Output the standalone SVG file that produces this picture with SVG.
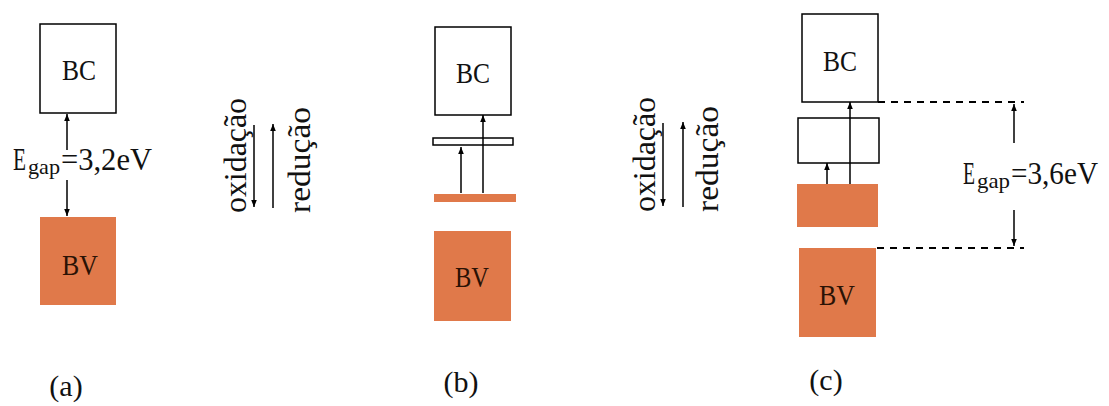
<svg xmlns="http://www.w3.org/2000/svg" width="1109" height="406" viewBox="0 0 1109 406">
<style>
  .box { fill: #ffffff; stroke: #000000; stroke-width: 1.5; }
  .orange { fill: #E0794A; stroke: none; }
  .lbl { font-family: "Liberation Serif", "Times New Roman", serif; font-size: 31px; fill: #111111; }
  .band { font-family: "Liberation Serif", "Times New Roman", serif; font-size: 30px; fill: #111111; text-anchor: middle; }
  .bandv { font-family: "Liberation Serif", "Times New Roman", serif; font-size: 30px; fill: #2a1205; text-anchor: middle; }
  .rot { font-family: "Liberation Serif", "Times New Roman", serif; font-size: 32px; fill: #111111; }
  .sub { font-size: 22px; }
  .arr { stroke: #000000; stroke-width: 1.5; fill: none; marker-end: url(#ah); }
  .dash { stroke: #000000; stroke-width: 1.8; stroke-dasharray: 7 6; fill: none; }
</style>
<defs>
  <marker id="ah" viewBox="0 0 10 10" refX="10" refY="5" markerWidth="7" markerHeight="7" markerUnits="userSpaceOnUse" orient="auto">
    <path d="M0,1 L10,5 L0,9 z" fill="#000000"/>
  </marker>
</defs>
<rect width="1109" height="406" fill="#ffffff"/>

<!-- Panel (a) -->
<g id="a-bc">
  <rect class="box" x="40" y="24" width="76" height="89"/>
  <text class="band" x="79" y="80" textLength="34" lengthAdjust="spacingAndGlyphs">BC</text>
</g>
<g id="a-bv">
  <rect class="orange" x="40" y="217" width="76" height="88"/>
  <text class="bandv" x="80" y="275" textLength="36" lengthAdjust="spacingAndGlyphs">BV</text>
</g>
<g id="a-egap">
  <text class="lbl"><tspan x="13" y="170" textLength="13" lengthAdjust="spacingAndGlyphs">E</tspan><tspan class="sub" x="28" y="174" textLength="32" lengthAdjust="spacingAndGlyphs">gap</tspan><tspan x="61" y="170" textLength="91" lengthAdjust="spacingAndGlyphs">=3,2eV</tspan></text>
</g>
<g id="a-redox">
  <text class="rot" transform="translate(246,213) rotate(-90)" textLength="115" lengthAdjust="spacingAndGlyphs">oxidação</text>
  <text class="rot" transform="translate(310,213) rotate(-90)" textLength="106" lengthAdjust="spacingAndGlyphs">redução</text>
</g>
<g id="a-label">
  <text class="band" x="66" y="396">(a)</text>
</g>

<!-- Panel (b) -->
<g id="b-bc">
  <rect class="box" x="435" y="27" width="76" height="88"/>
  <text class="band" x="473" y="83" textLength="34" lengthAdjust="spacingAndGlyphs">BC</text>
</g>
<g id="b-level">
  <rect class="box" x="433" y="138" width="80" height="7"/>
</g>
<g id="b-bar">
  <rect class="orange" x="434" y="194" width="82" height="8"/>
</g>
<g id="b-bv">
  <rect class="orange" x="434" y="231" width="77" height="90"/>
  <text class="bandv" x="472" y="287" textLength="34" lengthAdjust="spacingAndGlyphs">BV</text>
</g>
<g id="b-redox">
  <text class="rot" transform="translate(655,212) rotate(-90)" textLength="115" lengthAdjust="spacingAndGlyphs">oxidação</text>
  <text class="rot" transform="translate(718,212) rotate(-90)" textLength="106" lengthAdjust="spacingAndGlyphs">redução</text>
</g>
<g id="b-label">
  <text class="band" x="461" y="392">(b)</text>
</g>

<!-- Panel (c) -->
<g id="c-bc">
  <rect class="box" x="802" y="14" width="76" height="88"/>
  <text class="band" x="840" y="71" textLength="34" lengthAdjust="spacingAndGlyphs">BC</text>
</g>
<g id="c-level">
  <rect class="box" x="798" y="118" width="81" height="45"/>
</g>
<g id="c-orange">
  <rect class="orange" x="797" y="184" width="81" height="43"/>
</g>
<g id="c-bv">
  <rect class="orange" x="799" y="248" width="77" height="89"/>
  <text class="bandv" x="837" y="305" textLength="36" lengthAdjust="spacingAndGlyphs">BV</text>
</g>
<g id="c-egap">
  <text class="lbl"><tspan x="963" y="184" textLength="12" lengthAdjust="spacingAndGlyphs">E</tspan><tspan class="sub" x="977" y="188" textLength="33" lengthAdjust="spacingAndGlyphs">gap</tspan><tspan x="1011" y="184" textLength="87" lengthAdjust="spacingAndGlyphs">=3,6eV</tspan></text>
</g>
<g id="c-label">
  <text class="band" x="826" y="390">(c)</text>
</g>

<!-- Connectors -->
<g id="connectors">
  <line class="arr" x1="67" y1="150" x2="67" y2="114"/>
  <line class="arr" x1="67" y1="180" x2="67" y2="216"/>
  <line class="arr" x1="254" y1="125" x2="254" y2="207"/>
  <line class="arr" x1="273" y1="208" x2="273" y2="124"/>

  <line class="arr" x1="461" y1="193" x2="461" y2="147"/>
  <line class="arr" x1="483" y1="193" x2="483" y2="115"/>
  <line class="arr" x1="663" y1="123" x2="663" y2="206"/>
  <line class="arr" x1="683" y1="207" x2="683" y2="122"/>

  <line class="arr" x1="827" y1="184" x2="827" y2="163"/>
  <line class="arr" x1="850" y1="184" x2="850" y2="102"/>
  <line class="dash" x1="878" y1="102" x2="1024" y2="102"/>
  <line class="dash" x1="877" y1="248" x2="1024" y2="248"/>
  <line class="arr" x1="1014" y1="143" x2="1014" y2="104"/>
  <line class="arr" x1="1014" y1="210" x2="1014" y2="246"/>
</g>
</svg>
